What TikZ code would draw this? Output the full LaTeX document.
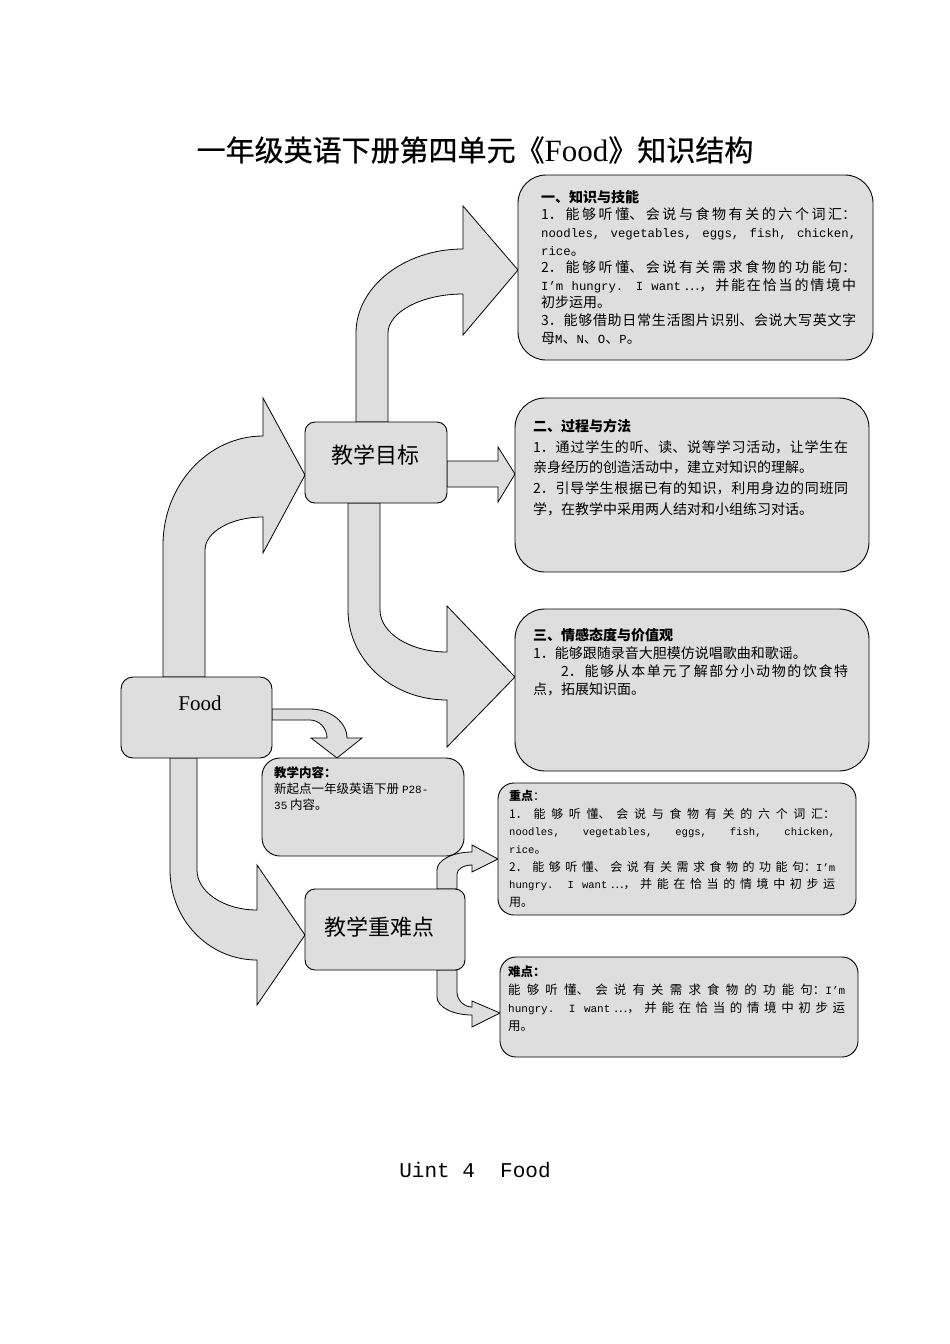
\documentclass[tikz,border=0pt]{standalone}
\usepackage{fontspec}
\setmainfont{Liberation Serif}
\newfontfamily\cjkfont{Noto Sans CJK SC}
\newfontfamily\titlefont[FakeBold=0.6]{Noto Sans CJK SC}
\newfontfamily\latmono[Scale=0.88]{Liberation Mono}
\usetikzlibrary{backgrounds}
\XeTeXlinebreaklocale "zh"
\XeTeXlinebreakskip=0pt plus 8pt
\setlength{\parindent}{0pt}
\definecolor{boxgray}{gray}{0.87}

\begin{document}
\begin{tikzpicture}[x=1pt,y=-1pt,
	box/.style={draw,fill=boxgray,line width=0.9pt,inner sep=0pt,outer sep=0pt},
	blockarrow/.style={draw,fill=boxgray,line width=0.8pt},
	txt/.style={anchor=north west,inner sep=0pt,align=justify}]
	\useasboundingbox (0,0) rectangle (950,1344);
	\node[font=\titlefont\fontsize{29}{34}\selectfont] (title) at (475,150) {一年级英语下册第四单元《{\rmfamily\fontsize{31}{34}\selectfont Food}》知识结构};
	\node[box,rounded corners=12pt,minimum width=151pt,minimum height=81pt] (food) at (196.5,717.5) {};
	\node[font=\fontsize{21}{25}\selectfont] (foodlabel) at (200,703) {Food};
	\node[box,rounded corners=10pt,minimum width=142pt,minimum height=81pt] (goal) at (376,462.5) {};
	\node[font=\cjkfont\fontsize{22}{26}\selectfont] (goallabel) at (375,455) {教学目标};
	\node[box,rounded corners=10pt,minimum width=160pt,minimum height=81pt] (focus) at (385,929.5) {};
	\node[font=\cjkfont\fontsize{22}{26}\selectfont] (focuslabel) at (379,927) {教学重难点};
	\node[box,rounded corners=18pt,minimum width=202pt,minimum height=98pt] (content) at (363,807) {};
	\node[box,rounded corners=28pt,minimum width=355pt,minimum height=185pt] (k1) at (695.5,267.5) {};
	\node[box,rounded corners=30pt,minimum width=354pt,minimum height=174pt] (k2) at (692,485) {};
	\node[box,rounded corners=30pt,minimum width=354pt,minimum height=162pt] (k3) at (692,690) {};
	\node[box,rounded corners=16pt,minimum width=358pt,minimum height=132pt] (key) at (677,849) {};
	\node[box,rounded corners=16pt,minimum width=358pt,minimum height=100pt] (hard) at (679,1007) {};
	\node[txt,text width=315pt,font=\cjkfont\fontsize{14}{17.6}\selectfont] (k1text) at (541,190) {{\bfseries 一、知识与技能}\par
		1．能够听懂、会说与食物有关的六个词汇：\linebreak
		{\latmono noodles, vegetables, eggs, fish, chicken,}\linebreak
		{\latmono rice}。\par
		2．能够听懂、会说有关需求食物的功能句：\linebreak
		{\latmono I’m hungry. I want} …，并能在恰当的情境中\linebreak
		初步运用。\par
		3．能够借助日常生活图片识别、会说大写英文字\linebreak
		母{\latmono M}、{\latmono N}、{\latmono O}、{\latmono P}。};
	\node[txt,text width=315pt,font=\cjkfont\fontsize{14}{20.7}\selectfont] (k2text) at (533,419) {{\bfseries 二、过程与方法}\par
		1．通过学生的听、读、说等学习活动，让学生在\linebreak
		亲身经历的创造活动中，建立对知识的理解。\par
		2．引导学生根据已有的知识，利用身边的同班同\linebreak
		学，在教学中采用两人结对和小组练习对话。};
	\node[txt,text width=315pt,font=\cjkfont\fontsize{14}{18}\selectfont] (k3text) at (533,628) {{\bfseries 三、情感态度与价值观}\par
		1．能够跟随录音大胆模仿说唱歌曲和歌谣。\par
		\hspace*{2em}2．能够从本单元了解部分小动物的饮食特\linebreak
		点，拓展知识面。};
	\node[txt,text width=183pt,font=\cjkfont\fontsize{12.5}{16}\selectfont] (contenttext) at (274,766) {{\bfseries 教学内容：}\par
		新起点一年级英语下册 {\latmono P28-}\newline
		{\latmono 35} 内容。};
	\node[txt,text width=326pt,font=\cjkfont\fontsize{12}{17.7}\selectfont] (keytext) at (509,790) {{\bfseries 重点}：\par
		1．能够听懂、会说与食物有关的六个词汇：\linebreak
		{\latmono noodles, vegetables, eggs, fish, chicken,}\linebreak
		{\latmono rice}。\par
		2．能够听懂、会说有关需求食物的功能句：{\latmono I’m}\linebreak
		{\latmono hungry. I want} …，并能在恰当的情境中初步运\linebreak
		用。};
	\node[txt,text width=337pt,font=\cjkfont\fontsize{12.5}{18}\selectfont] (hardtext) at (508,966) {{\bfseries 难点：}\par
		能够听懂、会说有关需求食物的功能句：{\latmono I’m}\linebreak
		{\latmono hungry. I want} …，并能在恰当的情境中初步运\linebreak
		用。};
	\node[font=\latmono\fontsize{23.9}{28}\selectfont] (unit) at (475,1170) {Uint 4\ \ Food};
	\begin{scope}[on background layer]
	\draw[blockarrow] (163,0 |- food.north) -- (163,545) .. controls (163,485) and (208,436) .. (263,436) -- (263,398) -- (goal.west |- 0,475) -- (263,553) -- (263,517) .. controls (231,517) and (205,532) .. (205,550) -- (205,0 |- food.north) -- cycle;
	\draw[blockarrow] (356,0 |- goal.north) -- (356,333) .. controls (356,287) and (404,249) .. (463,249) -- (463,206) -- (k1.west |- 0,270) -- (463,335) -- (463,294) .. controls (422,294) and (388,312) .. (388,333) -- (388,0 |- goal.north) -- cycle;
	\draw[blockarrow] (goal.east |- 0,461) -- (498,461) -- (498,447) -- (k2.west |- 0,474) -- (498,502) -- (498,487) -- (goal.east |- 0,487) -- cycle;
	\draw[blockarrow] (348,0 |- goal.south) -- (348,610) .. controls (348,660) and (392,700) .. (447,700) -- (447,747) -- (k3.west |- 0,677) -- (447,606) -- (447,652) .. controls (410,652) and (380,633) .. (380,610) -- (380,0 |- goal.south) -- cycle;
	\draw[blockarrow] (food.east |- 0,709) -- (310,709) .. controls (330,709) and (347,722) .. (347,738) -- (362,738) -- (337,0 |- content.north) -- (311,738) -- (327,738) .. controls (327,728) and (319,720) .. (310,720) -- (food.east |- 0,720) -- cycle;
	\draw[blockarrow] (170,0 |- food.south) -- (170,870) .. controls (170,920) and (209,960) .. (257,960) -- (257,1005) -- (focus.west |- 0,935) -- (257,865) -- (257,910) .. controls (224,910) and (197,892) .. (197,870) -- (197,0 |- food.south) -- cycle;
	\draw[blockarrow] (437,0 |- focus.north) -- (437,870) .. controls (437,860) and (453,852) .. (472,852) -- (472,845) -- (key.west |- 0,859) -- (472,872) -- (472,865) .. controls (464,865) and (457,869) .. (457,874) -- (457,0 |- focus.north) -- cycle;
	\draw[blockarrow] (437,0 |- focus.south) -- (437,997) .. controls (437,1007) and (453,1015) .. (472,1015) -- (472,1027) -- (hard.west |- 0,1013) -- (472,1001) -- (472,1007) .. controls (464,1007) and (457,1000) .. (457,992) -- (457,0 |- focus.south) -- cycle;
	\end{scope}
\end{tikzpicture}
\end{document}
